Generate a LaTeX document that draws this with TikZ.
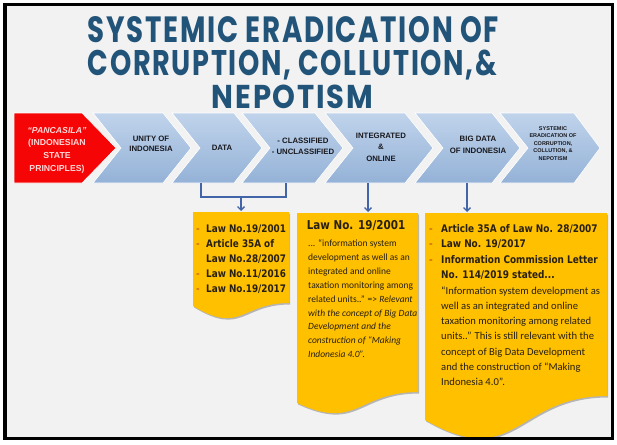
\documentclass[tikz,border=0pt]{standalone}
\usepackage{graphicx}
\usepackage{fontspec}
\setmainfont{Liberation Sans}
\newfontfamily\titlefont{Poppins}[LetterSpace=6]
\newfontfamily\tahoma{DejaVu Sans}[FakeStretch=0.85]
\newfontfamily\calib{Carlito}
\usetikzlibrary{arrows.meta,shadows}
\definecolor{bgc}{RGB}{242,242,242}
\definecolor{titlec}{RGB}{33,84,120}
\definecolor{chevtop}{RGB}{192,211,235}
\definecolor{chevbot}{RGB}{148,178,215}
\definecolor{redc}{RGB}{245,5,5}
\definecolor{redtxt}{RGB}{255,215,215}
\definecolor{chevtxt}{RGB}{25,25,30}
\definecolor{yboxc}{RGB}{255,192,0}
\definecolor{boxtxt}{RGB}{40,32,18}
\definecolor{dashc}{RGB}{205,110,30}
\definecolor{connc}{RGB}{66,100,168}
\newcommand\cbox[4]{\parbox[t]{#1}{\centering\bfseries\fontsize{#2}{#3}\selectfont #4}}
\newcommand\bul[2]{\par\hangindent=#1\hangafter=1\noindent\makebox[#1][l]{\textcolor{dashc}{-}}#2}
\begin{document}
\begin{tikzpicture}[x=1pt,y=-1pt,
  chev/.style={top color=chevtop, bottom color=chevbot, draw=white, line width=0.6pt},
  redchev/.style={fill=redc, draw=white, line width=0.6pt},
  chevtext/.style={anchor=base, inner sep=0pt, text=chevtxt},
  ybox/.style={fill=yboxc, drop shadow={shadow xshift=1.2pt, shadow yshift=-1.5pt, fill=black, opacity=0.25}},
  conn/.style={draw=connc, line width=1.3pt},
  arr/.style={conn, -{Straight Barb[length=3.5pt,width=7pt]}},
  boxtext/.style={anchor=base west, inner sep=0pt, text=boxtxt}]
\useasboundingbox (0,0) rectangle (617,444);
\fill[white] (0,0) rectangle (617,444);
\fill[bgc] (5,4.5) rectangle (612.5,438.5);

% title
\node[anchor=base, inner sep=0pt, text=titlec] (title1) at (293.5,42.5)
  {\resizebox{411pt}{26pt}{\titlefont\bfseries SYSTEMIC ERADICATION OF}};
\node[anchor=base, inner sep=0pt, text=titlec] (title2) at (292.5,75.5)
  {\resizebox{409pt}{25.5pt}{\titlefont\bfseries CORRUPTION, COLLUTION,\&}};
\node[anchor=base, inner sep=0pt, text=titlec] (title3) at (292.5,108)
  {\resizebox{161pt}{23.5pt}{\titlefont\bfseries NEPOTISM}};

% chevrons
\path[redchev] (14,113) -- (82,113) -- (116,148) -- (82,183) -- (14,183) -- cycle;
\path[chev] (93,113) -- (163,113) -- (191,148) -- (163,183) -- (93,183) -- (121,148) -- cycle;
\path[chev] (172,113) -- (234,113) -- (262,148) -- (234,183) -- (172,183) -- (200,148) -- cycle;
\path[chev] (242,113) -- (315,113) -- (343,148) -- (315,183) -- (242,183) -- (270,148) -- cycle;
\path[chev] (325,113) -- (405,113) -- (433,148) -- (405,183) -- (325,183) -- (353,148) -- cycle;
\path[chev] (415,113) -- (492,113) -- (520,148) -- (492,183) -- (415,183) -- (443,148) -- cycle;
\path[chev] (500,113) -- (574,113) -- (600,148) -- (574,183) -- (500,183) -- (528,148) -- cycle;

\node[anchor=base, inner sep=0pt, text=redtxt] (pan) at (57,133)
  {\cbox{80pt}{8.7}{12.7}{\textit{“PANCASILA”}\\(INDONESIAN\\STATE\\PRINCIPLES)}};
\node[chevtext] (unity) at (151,141) {\cbox{70pt}{7.8}{10}{UNITY OF\\INDONESIA}};
\node[chevtext] (data) at (222,150) {\cbox{50pt}{7.8}{10}{DATA}};
\node[chevtext] (cls) at (303,143.5) {\cbox{80pt}{7.8}{10.5}{- CLASSIFIED\\- UNCLASSIFIED}};
\node[chevtext] (integ) at (381,138) {\cbox{70pt}{7.8}{11.5}{INTEGRATED\\\&\\ONLINE}};
\node[chevtext] (bigd) at (478,141) {\cbox{70pt}{7.8}{12}{BIG DATA\\OF INDONESIA}};
\node[chevtext] (sysx) at (553,130) {\cbox{60pt}{5.5}{7.6}{SYSTEMIC\\ERADICATION OF\\CORRUPTION,\\COLLUTION, \&\\NEPOTISM}};

% yellow document boxes
\path[ybox] (193,212) -- (289,212) -- (289,303) .. controls (241,303) and (241,335) .. (193,306) -- cycle;
\path[ybox] (297,213) -- (418,213) -- (418,392) .. controls (357.5,392) and (357.5,431) .. (297,403) -- cycle;
\path[ybox] (425,213) -- (607,213) -- (607,396) .. controls (516,396) and (516,472) .. (425,420) -- cycle;

% connector points
\coordinate (dataB) at (201,183);
\coordinate (clsB) at (286,183);
\coordinate (jn) at (241,197);
\coordinate (b1top) at (241,211);
\coordinate (intB) at (368,183);
\coordinate (b2top) at (368,212);
\coordinate (bigB) at (467,183);
\coordinate (b3top) at (467,212);

\draw[conn] (dataB) |- (jn) -| (clsB);
\draw[arr] (jn) -- (b1top);
\draw[arr] (intB) -- (b2top);
\draw[arr] (bigB) -- (b3top);

% box texts
\node[boxtext] (b1txt) at (196,232)
  {\parbox[t]{100pt}{\tahoma\bfseries\fontsize{10.4}{15}\selectfont
   \bul{10pt}{Law No.19/2001}\bul{10pt}{Article 35A of\\Law No.28/2007}\bul{10pt}{Law No.11/2016}\bul{10pt}{Law No.19/2017}}};

\node[anchor=base, inner sep=0pt, text=boxtxt] (b2head) at (356,229.5)
  {\tahoma\bfseries\fontsize{12.2}{14}\selectfont Law No. 19/2001};
\node[boxtext] (b2txt) at (308,246.5)
  {\parbox[t]{120pt}{\calib\fontsize{9.5}{13.9}\selectfont
   ... “information system\\
   development as well as an\\
   integrated and online\\
   taxation monitoring among\\
   related units..” => \textit{Relevant}\\
   \textit{with the concept of Big Data}\\
   \textit{Development and the}\\
   \textit{construction of “Making}\\
   \textit{Indonesia 4.0”.}}};

\node[boxtext] (b3head) at (429,232)
  {\parbox[t]{185pt}{\tahoma\bfseries\fontsize{10.5}{15.5}\selectfont
   \bul{12pt}{Article 35A of Law No. 28/2007}\bul{12pt}{Law No. 19/2017}\bul{12pt}{Information Commission Letter\\No. 114/2019 stated...}}};
\node[boxtext] (b3txt) at (441,294)
  {\parbox[t]{175pt}{\calib\fontsize{10.6}{15.3}\selectfont
   “Information system development as\\
   well as an integrated and online\\
   taxation monitoring among related\\
   units..” This is still relevant with the\\
   concept of Big Data Development\\
   and the construction of “Making\\
   Indonesia 4.0”.}};

% frame
\draw[black, line width=3.5pt] (5,4.5) rectangle (612.5,438.5);
\end{tikzpicture}
\end{document}
